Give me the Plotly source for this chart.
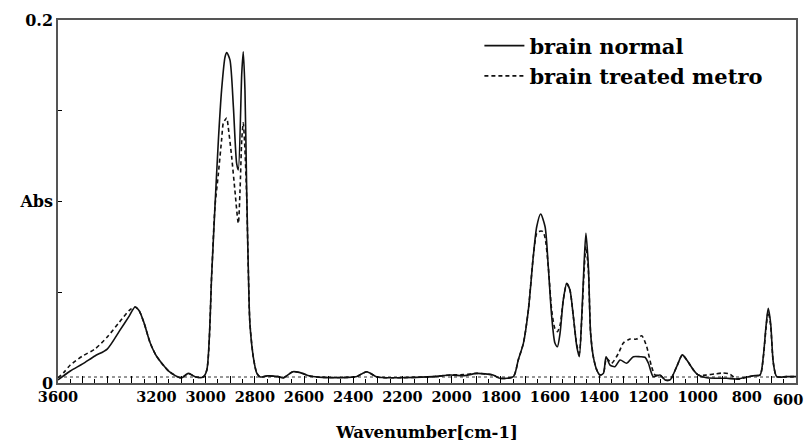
import plotly.graph_objects as go

# ---------------- data ----------------
wn_normal = [3600, 3550, 3500, 3450, 3400, 3350, 3310, 3287, 3270, 3250, 3225, 3200, 3150, 3100,
             3070, 3040, 3010, 2995, 2975, 2962, 2948, 2935, 2921, 2914, 2901, 2887, 2874, 2867,
             2853, 2847, 2840, 2833, 2826, 2820, 2806, 2792, 2778, 2750, 2705, 2685, 2645, 2616,
             2576, 2523, 2420, 2385, 2345, 2303, 2238, 2075, 2006, 1950, 1898, 1832, 1803, 1749,
             1729, 1708, 1688, 1668, 1654, 1638, 1620, 1607, 1593, 1580, 1570, 1559, 1546, 1532,
             1519, 1505, 1491, 1481, 1471, 1462, 1454, 1444, 1435, 1424, 1410, 1397, 1383, 1372,
             1356, 1336, 1315, 1288, 1261, 1234, 1214, 1200, 1180, 1153, 1132, 1112, 1085, 1062,
             1044, 1017, 997, 963, 882, 841, 774, 746, 733, 722, 713, 703, 692, 678, 638, 600]
abs_normal = [0.0017, 0.0066, 0.0105, 0.0149, 0.0187, 0.0287, 0.0370, 0.0419, 0.0398, 0.0330,
              0.0220, 0.0149, 0.0066, 0.0028, 0.0053, 0.0033, 0.0033, 0.0072, 0.0606, 0.0970,
              0.1339, 0.1614, 0.1796, 0.1820, 0.1780, 0.1520, 0.1212, 0.1174, 0.1708, 0.1825,
              0.1614, 0.1063, 0.0606, 0.0331, 0.0143, 0.0055, 0.0033, 0.0039, 0.0035, 0.0028,
              0.0062, 0.0057, 0.0039, 0.0031, 0.0031, 0.0036, 0.0062, 0.0033, 0.0029, 0.0035,
              0.0044, 0.0040, 0.0053, 0.0044, 0.0026, 0.0035, 0.0127, 0.0220, 0.0402, 0.0696,
              0.0861, 0.0931, 0.0861, 0.0641, 0.0365, 0.0220, 0.0200, 0.0276, 0.0457, 0.0549,
              0.0512, 0.0365, 0.0200, 0.0145, 0.0365, 0.0641, 0.0825, 0.0641, 0.0276, 0.0145,
              0.0072, 0.0044, 0.0053, 0.0145, 0.0099, 0.0090, 0.0127, 0.0109, 0.0145, 0.0145,
              0.0142, 0.0109, 0.0035, 0.0044, 0.0017, 0.0017, 0.0090, 0.0155, 0.0127, 0.0072,
              0.0044, 0.0029, 0.0026, 0.0022, 0.0040, 0.0044, 0.0145, 0.0312, 0.0411, 0.0328,
              0.0109, 0.0035, 0.0035, 0.0035]

wn_treated = [3600, 3575, 3550, 3500, 3450, 3400, 3350, 3310, 3287, 3270, 3250, 3225, 3200, 3150,
              3100, 3070, 3040, 3010, 2995, 2975, 2962, 2948, 2935, 2928, 2921, 2914, 2908, 2894,
              2881, 2867, 2860, 2853, 2847, 2840, 2833, 2826, 2820, 2806, 2792, 2778, 2750, 2705,
              2685, 2645, 2616, 2576, 2523, 2420, 2385, 2345, 2303, 2238, 2075, 2006, 1950, 1898,
              1832, 1803, 1749, 1729, 1708, 1688, 1668, 1654, 1645, 1630, 1620, 1607, 1593, 1580,
              1570, 1559, 1546, 1532, 1519, 1505, 1491, 1481, 1471, 1462, 1454, 1444, 1435, 1424,
              1410, 1397, 1383, 1370, 1350, 1322, 1302, 1275, 1248, 1227, 1207, 1187, 1173, 1153,
              1132, 1112, 1085, 1062, 1044, 1017, 997, 963, 930, 900, 870, 841, 774, 746, 733,
              722, 713, 703, 692, 678, 638, 600]
abs_treated = [0.0028, 0.0060, 0.0099, 0.0149, 0.0187, 0.0253, 0.0336, 0.0400, 0.0419, 0.0398,
               0.0330, 0.0220, 0.0149, 0.0066, 0.0028, 0.0053, 0.0033, 0.0033, 0.0072, 0.0606,
               0.0970, 0.1155, 0.1339, 0.1433, 0.1449, 0.1460, 0.1410, 0.1245, 0.1063, 0.0880,
               0.1063, 0.1339, 0.1433, 0.1284, 0.1025, 0.0606, 0.0331, 0.0143, 0.0055, 0.0033,
               0.0039, 0.0035, 0.0028, 0.0062, 0.0057, 0.0039, 0.0031, 0.0031, 0.0036, 0.0062,
               0.0033, 0.0029, 0.0035, 0.0044, 0.0046, 0.0053, 0.0044, 0.0026, 0.0035, 0.0127,
               0.0220, 0.0402, 0.0696, 0.0825, 0.0835, 0.0835, 0.0800, 0.0641, 0.0400, 0.0300,
               0.0283, 0.0320, 0.0457, 0.0546, 0.0512, 0.0365, 0.0210, 0.0164, 0.0350, 0.0600,
               0.0752, 0.0620, 0.0276, 0.0145, 0.0072, 0.0044, 0.0053, 0.0136, 0.0109, 0.0163,
               0.0220, 0.0242, 0.0242, 0.0260, 0.0200, 0.0090, 0.0044, 0.0044, 0.0017, 0.0017,
               0.0090, 0.0155, 0.0127, 0.0072, 0.0044, 0.0044, 0.0050, 0.0055, 0.0050, 0.0022,
               0.0040, 0.0044, 0.0140, 0.0300, 0.0393, 0.0315, 0.0109, 0.0035, 0.0035, 0.0035]

baseline_wn = [3600, 600]
baseline_abs = [0.0033, 0.0033]

series_names = ["brain normal", "brain treated metro"]

x_edge = 600  # last tick; its label is written as an annotation so it is not cut off
x_major_ticks = list(range(600, 3601, 100))
x_labels = [str(v) if (v % 200 == 0 and v not in (3400, x_edge)) else "" for v in x_major_ticks]
x_minor_ticks = list(range(650, 3600, 100))
y_ticks = [0, 0.1, 0.2]
y_labels = ["0", "Abs", "0.2"]
y_minor_ticks = [0.05, 0.15]

# ---------------- figure ----------------
SERIF = "DejaVu Serif"
TICKFONT = dict(family=SERIF, size=14.5, weight="bold", color="black")

fig = go.Figure()
fig.add_trace(go.Scatter(x=baseline_wn, y=baseline_abs, mode="lines",
                         line=dict(color="#333333", width=1, dash="dot"),
                         showlegend=False, hoverinfo="skip"))
fig.add_trace(go.Scatter(x=wn_normal, y=abs_normal, mode="lines", name=series_names[0],
                         line=dict(color="#111111", width=1.6, shape="spline", smoothing=0.7)))
fig.add_trace(go.Scatter(x=wn_treated, y=abs_treated, mode="lines", name=series_names[1],
                         line=dict(color="#111111", width=1.6, dash="4px,3px",
                                   shape="spline", smoothing=0.7)))

# the page body adds an 8px offset, so the figure is sized to fill the rest
fig.update_layout(
    width=804, height=437,
    margin=dict(l=50, r=16, t=12, b=62, autoexpand=False),
    paper_bgcolor="white", plot_bgcolor="white",
    font=dict(family=SERIF, color="black"),
    legend=dict(x=0.571, y=0.985, xanchor="left", yanchor="top",
                bgcolor="rgba(0,0,0,0)", borderwidth=0,
                font=dict(family=SERIF, size=21, weight="bold", color="black"),
                itemwidth=40, tracegroupgap=0),
    annotations=[dict(text=str(x_edge), x=x_edge, xref="x", y=0, yref="paper",
                      xanchor="right", yanchor="top", xshift=9, yshift=-6,
                      showarrow=False, font=TICKFONT)],
)
fig.update_xaxes(
    range=[3600, 600], autorange=False, automargin=False,
    showgrid=False, zeroline=False,
    showline=True, mirror=True, linecolor="#555555", linewidth=1.5,
    tickmode="array", tickvals=x_major_ticks, ticktext=x_labels,
    ticks="inside", ticklen=7, tickwidth=1, tickcolor="black",
    minor=dict(tickmode="array", tickvals=x_minor_ticks, ticks="inside",
               ticklen=4, tickcolor="black", showgrid=False),
    tickfont=TICKFONT,
    title=dict(text="Wavenumber[cm-1]", standoff=22,
               font=dict(family=SERIF, size=16.5, weight="bold", color="black")),
)
fig.update_yaxes(
    range=[0, 0.2], autorange=False, automargin=False,
    showgrid=False, zeroline=False,
    showline=True, mirror=True, linecolor="#555555", linewidth=1.5,
    tickmode="array", tickvals=y_ticks, ticktext=y_labels,
    ticks="inside", ticklen=4, tickwidth=1, tickcolor="black",
    minor=dict(tickmode="array", tickvals=y_minor_ticks, ticks="inside",
               ticklen=4, tickcolor="black", showgrid=False),
    tickfont=dict(family=SERIF, size=16, weight="bold", color="black"),
)

fig.write_html("out.html")
